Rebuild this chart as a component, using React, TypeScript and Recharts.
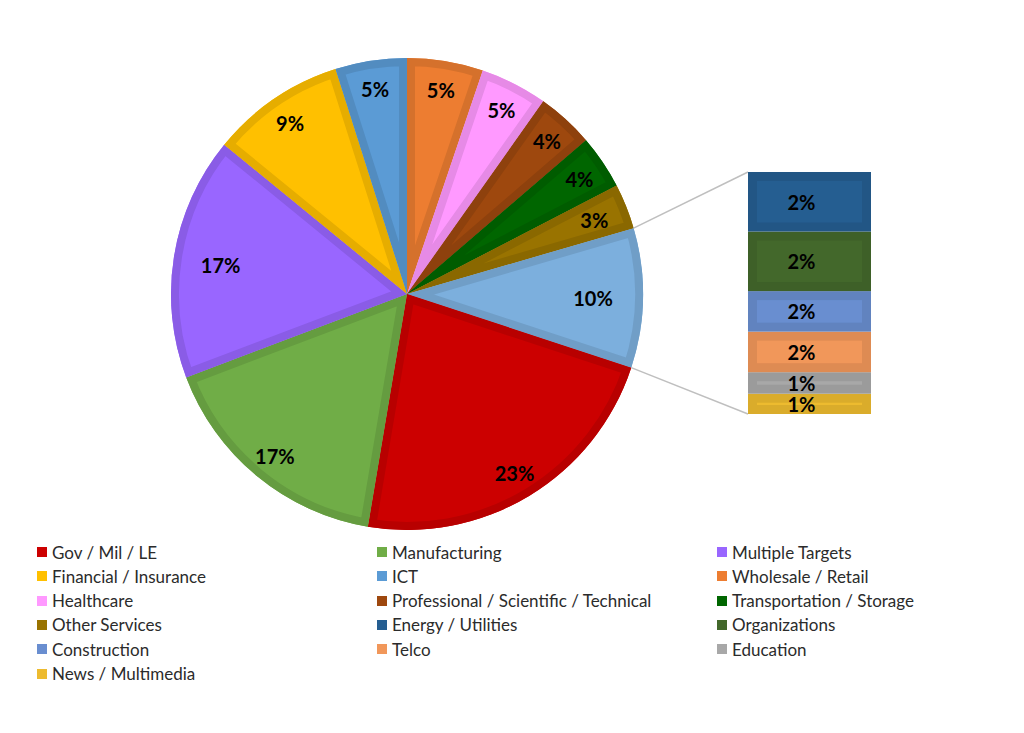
import React from 'react';
import { PieChart, Pie, Cell, Sector, BarChart, Bar, XAxis, YAxis, LabelList } from 'recharts';

// main pie, clockwise from 12 o'clock ('Other' is split out into the bar)
const pieNames = [
  'Wholesale / Retail',
  'Healthcare',
  'Professional / Scientific / Technical',
  'Transportation / Storage',
  'Other Services',
  'Other',
  'Gov / Mil / LE',
  'Manufacturing',
  'Multiple Targets',
  'Financial / Insurance',
  'ICT',
];
const pieValues = [5.2, 4.6, 3.9, 3.7, 3.1, 9.55, 22.6, 16.6, 16.65, 9.2, 4.9];

// secondary bar, top to bottom
const barNames = ['Energy / Utilities', 'Organizations', 'Construction', 'Telco', 'Education', 'News / Multimedia'];
const barValues = [2.35, 2.35, 1.6, 1.6, 0.85, 0.8];

const legendNames = [
  'Gov / Mil / LE', 'Manufacturing', 'Multiple Targets',
  'Financial / Insurance', 'ICT', 'Wholesale / Retail',
  'Healthcare', 'Professional / Scientific / Technical', 'Transportation / Storage',
  'Other Services', 'Energy / Utilities', 'Organizations',
  'Construction', 'Telco', 'Education',
  'News / Multimedia',
];

const colors: Record<string, string> = {
  'Gov / Mil / LE': '#CC0000',
  'Manufacturing': '#70AD47',
  'Multiple Targets': '#9966FF',
  'Financial / Insurance': '#FFC000',
  'ICT': '#5B9BD5',
  'Wholesale / Retail': '#ED7D31',
  'Healthcare': '#FF99FF',
  'Professional / Scientific / Technical': '#9E480E',
  'Transportation / Storage': '#006600',
  'Other Services': '#997300',
  'Energy / Utilities': '#255E91',
  'Organizations': '#43682B',
  'Construction': '#698ED0',
  'Telco': '#F1975A',
  'Education': '#A8A8A8',
  'News / Multimedia': '#EDBB2F',
  'Other': '#7CAFDD',
};

const FONT = 'Lato, "Open Sans", sans-serif';
const CX = 407;
const CY = 294;
const R = 236;
const BAR_X = 748;
const BAR_Y = 172;
const BAR_W = 123;
const BAR_H = 242;
const BAR_PAD = 12;
const RAD = Math.PI / 180;

function shade(hex: string, f: number) {
  const n = parseInt(hex.slice(1), 16);
  const r = Math.round(((n >> 16) & 255) * f);
  const g = Math.round(((n >> 8) & 255) * f);
  const b = Math.round((n & 255) * f);
  return `rgb(${r},${g},${b})`;
}

const total = pieValues.reduce((a, b) => a + b, 0);
const otherIdx = pieNames.indexOf('Other');
const otherTotal = barValues.reduce((a, b) => a + b, 0);
const pieData = pieNames.map((name, i) => ({ name, value: pieValues[i] }));
const barRow: Record<string, any> = { name: 'Other' };
barNames.forEach((n, i) => (barRow[n] = barValues[i]));

// angles of the 'Other' slice edges, used for the connector lines
const beforeOther = pieValues.slice(0, otherIdx).reduce((a, b) => a + b, 0);
const otherStart = 90 - (360 * beforeOther) / total;
const otherEnd = otherStart - (360 * pieValues[otherIdx]) / total;
const edgePoint = (a: number) => ({ x: CX + R * Math.cos(a * RAD), y: CY - R * Math.sin(a * RAD) });

const pct = (v: number) => `${Math.round((v / total) * 100)}%`;

const renderPieLabel = (props: any) => {
  const { cx, cy, outerRadius, startAngle, endAngle, midAngle, index } = props;
  const base = colors[pieNames[index]];
  const clipId = `pie-clip-${index}`;
  const c = Math.abs(Math.cos(midAngle * RAD));
  const lr = outerRadius - 28 - 22 * Math.max(0, (c - 0.9) / 0.1);
  const x = cx + lr * Math.cos(-midAngle * RAD);
  const y = cy + lr * Math.sin(-midAngle * RAD) + 1;
  return (
    <g key={`lbl-${index}`}>
      <defs>
        <clipPath id={clipId}>
          <Sector cx={cx} cy={cy} innerRadius={0} outerRadius={outerRadius} startAngle={startAngle} endAngle={endAngle} />
        </clipPath>
      </defs>
      <Sector
        cx={cx}
        cy={cy}
        innerRadius={0}
        outerRadius={outerRadius}
        startAngle={startAngle}
        endAngle={endAngle}
        fill="none"
        stroke={shade(base, 0.9)}
        strokeWidth={16}
        clipPath={`url(#${clipId})`}
      />
      <text x={x} y={y} textAnchor="middle" dominantBaseline="central" fontSize={20} fontWeight={700} fill="#000" fontFamily={FONT}>
        {pct(pieValues[index])}
      </text>
    </g>
  );
};

const BarSegment = (props: any) => {
  const { x, y, width, height, fill } = props;
  const b = 9;
  return (
    <rect
      x={x + b / 2}
      y={y + b / 2}
      width={Math.max(0, width - b)}
      height={Math.max(0, height - b)}
      fill={fill}
      stroke={shade(fill, 0.92)}
      strokeWidth={b}
    />
  );
};

const renderBarLabel = (props: any) => {
  const { x, y, width, height, value } = props;
  return (
    <text
      x={x + width / 2 - 8}
      y={y + height / 2}
      textAnchor="middle"
      dominantBaseline="central"
      fontSize={20}
      fontWeight={700}
      fill="#000"
      fontFamily={FONT}
    >
      {pct(value)}
    </text>
  );
};

export default function App() {
  const p1 = edgePoint(otherStart);
  const p2 = edgePoint(otherEnd);
  // Recharts stacks bottom-up
  const stackOrder = [...barNames].reverse();

  return (
    <div style={{ position: 'absolute', left: 0, top: 0, width: 1024, height: 733, background: '#fff', fontFamily: FONT }}>
      <div style={{ position: 'absolute', left: 0, top: 0 }}>
        <PieChart width={1024} height={540} margin={{ top: 0, right: 0, bottom: 0, left: 0 }}>
          <Pie
            data={pieData}
            dataKey="value"
            nameKey="name"
            cx={CX}
            cy={CY}
            innerRadius={0}
            outerRadius={R}
            startAngle={90}
            endAngle={-270}
            stroke="none"
            label={renderPieLabel}
            labelLine={false}
            isAnimationActive={false}
          >
            {pieData.map((d) => (
              <Cell key={d.name} fill={colors[d.name]} />
            ))}
          </Pie>
        </PieChart>
      </div>

      <svg width={1024} height={540} style={{ position: 'absolute', left: 0, top: 0, pointerEvents: 'none' }}>
        <line x1={p1.x} y1={p1.y} x2={BAR_X} y2={BAR_Y} stroke="#BFBFBF" strokeWidth={1.5} />
        <line x1={p2.x} y1={p2.y} x2={BAR_X} y2={BAR_Y + BAR_H} stroke="#BFBFBF" strokeWidth={1.5} />
      </svg>

      <div style={{ position: 'absolute', left: BAR_X, top: BAR_Y - BAR_PAD }}>
        <BarChart
          width={BAR_W}
          height={BAR_H + 2 * BAR_PAD}
          data={[barRow]}
          margin={{ top: BAR_PAD, right: 0, bottom: BAR_PAD, left: 0 }}
          barCategoryGap={0}
        >
          <XAxis dataKey="name" hide />
          <YAxis hide domain={[0, otherTotal]} />
          {stackOrder.map((n) => (
            <Bar key={n} dataKey={n} stackId="other" fill={colors[n]} shape={<BarSegment />} isAnimationActive={false}>
              <LabelList dataKey={n} content={renderBarLabel} />
            </Bar>
          ))}
        </BarChart>
      </div>

      {legendNames.map((n, i) => {
        const col = i % 3;
        const row = Math.floor(i / 3);
        const left = [37, 377, 717][col];
        const top = 552 + row * 24.3;
        return (
          <div
            key={n}
            style={{
              position: 'absolute',
              left,
              top: top - 11,
              height: 22,
              display: 'flex',
              alignItems: 'center',
              whiteSpace: 'nowrap',
              fontSize: 17,
              color: '#2b2b2b',
            }}
          >
            <span style={{ display: 'inline-block', width: 10, height: 10, background: colors[n], marginRight: 5 }} />
            {n}
          </div>
        );
      })}
    </div>
  );
}
